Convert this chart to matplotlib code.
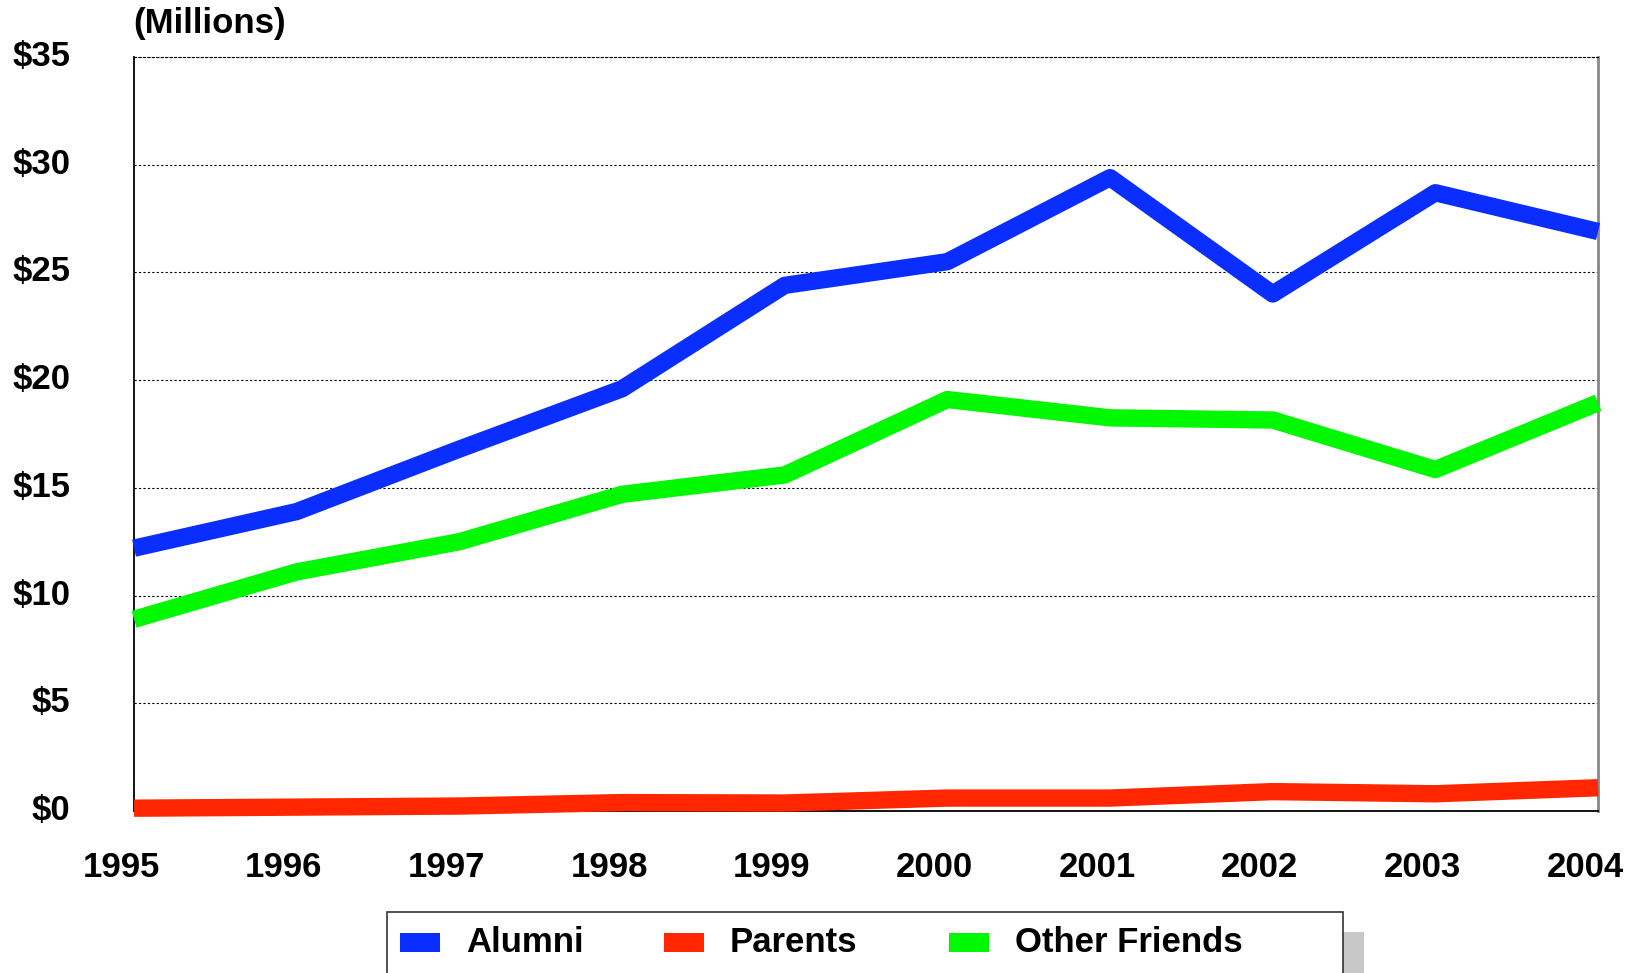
import matplotlib
matplotlib.use("Agg")
import matplotlib.pyplot as plt
import matplotlib.transforms as mtransforms
from matplotlib.patches import Rectangle

plt.rcParams['font.family'] = ['Liberation Sans', 'DejaVu Sans']
plt.rcParams['font.weight'] = 'bold'

# data (millions of dollars)
years = [1995, 1996, 1997, 1998, 1999, 2000, 2001, 2002, 2003, 2004]
alumni = [12.2, 13.9, 16.8, 19.6, 24.4, 25.5, 29.4, 24.0, 28.7, 26.9]
parents = [0.13, 0.18, 0.23, 0.39, 0.37, 0.6, 0.6, 0.9, 0.8, 1.08]
other_friends = [8.9, 11.1, 12.5, 14.7, 15.6, 19.1, 18.25, 18.15, 15.85, 18.95]
yticks = [0, 5, 10, 15, 20, 25, 30, 35]
ytick_labels = ["$" + str(v) for v in yticks]

series_names = ["Alumni", "Parents", "Other Friends"]
colors = ["#0a2eff", "#ff2600", "#00f800"]

fig = plt.figure(figsize=(16.33, 9.73), dpi=100)
ax = fig.add_axes([0.0821, 0.1665, 0.8965, 0.7749])

for vals, c in zip([alumni, parents, other_friends], colors):
    ax.plot(years, vals, color=c, lw=12.5, solid_capstyle="butt",
            solid_joinstyle="round", clip_on=False, zorder=3)

ax.set_xlim(1995, 2004)
ax.set_ylim(0, 35)
ax.set_xticks(years)
ax.set_xticklabels([str(y) for y in years], fontsize=25, fontweight="bold")
ax.set_yticks(yticks)
ax.set_yticklabels(ytick_labels, fontsize=25, fontweight="bold")
ax.tick_params(axis="both", length=0)
ax.tick_params(axis="y", pad=46)
ax.tick_params(axis="x", pad=29)

# nudge tick labels like the original (years left, dollar labels up)
xshift = mtransforms.ScaledTranslation(-13 / 100, 0, fig.dpi_scale_trans)
for lbl in ax.get_xticklabels():
    lbl.set_transform(lbl.get_transform() + xshift)
yshift = mtransforms.ScaledTranslation(0, 4 / 100, fig.dpi_scale_trans)
for lbl in ax.get_yticklabels():
    lbl.set_transform(lbl.get_transform() + yshift)

ax.yaxis.grid(True, color="black", linestyle=(0, (2, 2)), lw=0.8)
ax.set_axisbelow(True)
ax.spines["left"].set_linewidth(1.3)
ax.spines["bottom"].set_linewidth(1.3)
ax.spines["top"].set_linestyle((0, (2, 2)))
ax.spines["top"].set_linewidth(0.8)
ax.spines["right"].set_color("#888888")
ax.spines["right"].set_linewidth(2)

fig.text(133 / 1633, 1 - 24 / 973, "(Millions)", fontsize=25,
         fontweight="bold", ha="left", va="center")

# legend box (runs off the bottom of the image), with a grey shadow
W, H = 1633, 973
fig.patches.append(Rectangle((1343 / W, -0.1), 21 / W, (H - 932) / H + 0.1,
                             transform=fig.transFigure, color="#c8c8c8",
                             lw=0))
fig.patches.append(Rectangle((387 / W, -0.1), (1343 - 387) / W,
                             (H - 912) / H + 0.1, transform=fig.transFigure,
                             facecolor="white", edgecolor="#333333", lw=1.2))
patch_x = [400, 664, 949]
text_x = [466, 730, 1015]
for name, c, px, tx in zip(series_names, colors, patch_x, text_x):
    fig.patches.append(Rectangle((px / W, 1 - 952 / H), 40 / W, 19 / H,
                                 transform=fig.transFigure, color=c, lw=0))
    fig.text(tx / W, 1 - 942 / H, name, fontsize=25, fontweight="bold",
             ha="left", va="center")

fig.savefig("out.png", dpi=100)
